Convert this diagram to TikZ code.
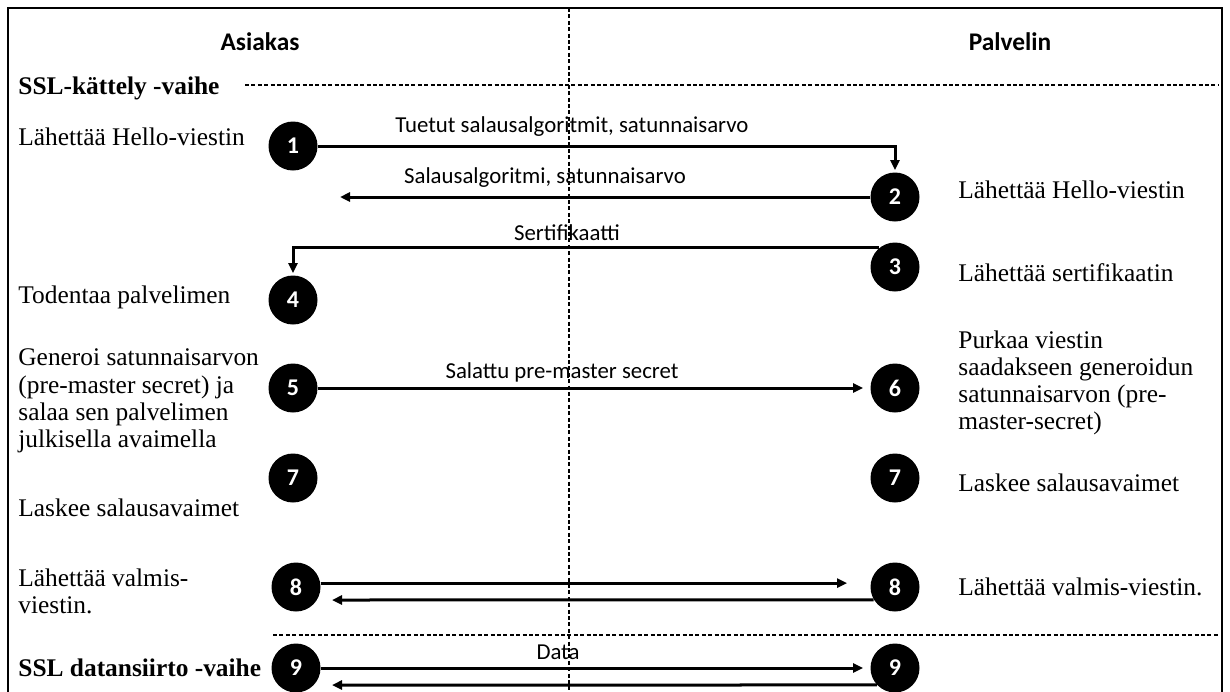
\documentclass[tikz,border=0pt]{standalone}
\usepackage{fontspec}
\setmainfont{Liberation Serif}
\newfontfamily\calibri{Carlito}
\usetikzlibrary{arrows.meta}

\begin{document}
\begin{tikzpicture}[x=0.5pt,y=-0.5pt,
        stepno/.style={circle,fill=black,text=white,inner sep=0pt,minimum size=24.5pt,font=\calibri\bfseries\fontsize{12}{12}\selectfont},
        txt/.style={anchor=west,inner sep=0pt,align=left,font=\fontsize{12.7}{13.6}\selectfont},
        phase/.style={anchor=west,inner sep=0pt,font=\bfseries\fontsize{12.7}{13.6}\selectfont},
        head/.style={inner sep=0pt,font=\calibri\bfseries\fontsize{12.7}{13}\selectfont},
        lbl/.style={inner sep=0pt,font=\calibri\fontsize{11.4}{12}\selectfont},
        msg/.style={line width=1.5pt,-{Triangle[length=5pt,width=4.5pt]}},
        sep/.style={line width=0.6pt,dash pattern=on 2pt off 1.2pt}]
        \useasboundingbox (0,0) rectangle (1230,691);
        \draw [line width=1.4pt] (8,700) -- (8,8) -- (1222,8) -- (1222,700);
        \draw [sep] (569,8) -- (569,691);
        \node [head] (asiakas) at (260,42) {Asiakas};
        \node [head] (palvelin) at (1010,42) {Palvelin};
        \node [phase] (kattely) at (18,88) {SSL-kättely -vaihe};
        \draw [sep] (245,85) -- (1218,85);
        \node [txt] (hello1) at (18,137) {Lähettää Hello-viestin};
        \node [txt] (todentaa) at (18,297) {Todentaa palvelimen};
        \node [txt] (generoi) at (18,401) {Generoi satunnaisarvon\\(pre-master secret) ja\\salaa sen palvelimen\\julkisella avaimella};
        \node [txt] (laskee1) at (18,508) {Laskee salausavaimet};
        \node [txt] (valmis1) at (18,591) {Lähettää valmis-\\viestin.};
        \node [phase] (siirto) at (18,668) {SSL datansiirto -vaihe};
        \node [txt] (hello2) at (958,190) {Lähettää Hello-viestin};
        \node [txt] (sert) at (958,273) {Lähettää sertifikaatin};
        \node [txt] (purkaa) at (958,383) {Purkaa viestin\\saadakseen generoidun\\satunnaisarvon (pre-\\master-secret)};
        \node [txt] (laskee2) at (958,483) {Laskee salausavaimet};
        \node [txt] (valmis2) at (958,587) {Lähettää valmis-viestin.};
        \draw [sep] (273,635) -- (1218,635);
        \node [stepno] (s1) at (293,146) {1};
        \node [stepno] (s2) at (895,197) {2};
        \node [stepno] (s3) at (895,267) {3};
        \node [stepno] (s4) at (293,300) {4};
        \node [stepno] (s5) at (293,388) {5};
        \node [stepno] (s6) at (895,388) {6};
        \node [stepno] (s7a) at (293,478) {7};
        \node [stepno] (s7b) at (895,478) {7};
        \node [stepno] (s8a) at (296,587) {8};
        \node [stepno] (s8b) at (895,587) {8};
        \node [stepno] (s9a) at (296,668) {9};
        \node [stepno] (s9b) at (895,668) {9};
        \coordinate (back2) at (340,197);
        \coordinate (back8) at (332,600);
        \coordinate (back9) at (332,685);
        \node [lbl] (tuetut) at (572,127) {Tuetut salausalgoritmit, satunnaisarvo};
        \node [lbl] (salaus) at (545,178) {Salausalgoritmi, satunnaisarvo};
        \node [lbl] (sertlbl) at (567,233) {Sertifikaatti};
        \node [lbl] (salattu) at (562,372) {Salattu pre-master secret};
        \node [lbl] (data) at (558,652) {Data};
        \draw [msg,shorten >=1pt] (s1) -| (s2);
        \draw [msg] (s2) -- (back2);
        \draw [msg,shorten >=1pt] (s3.130) -| (s4);
        \draw [msg,shorten >=3.5pt] (s5) -- (s6);
        \draw [msg,shorten >=11.5pt] (s8a.9) -- (s8a.9 -| s8b.west);
        \draw [msg] (s8b.211) -- (back8);
        \draw [msg,shorten >=3.5pt] (s9a) -- (s9b);
        \draw [msg] (s9b.223) -- (back9);
\end{tikzpicture}
\end{document}
